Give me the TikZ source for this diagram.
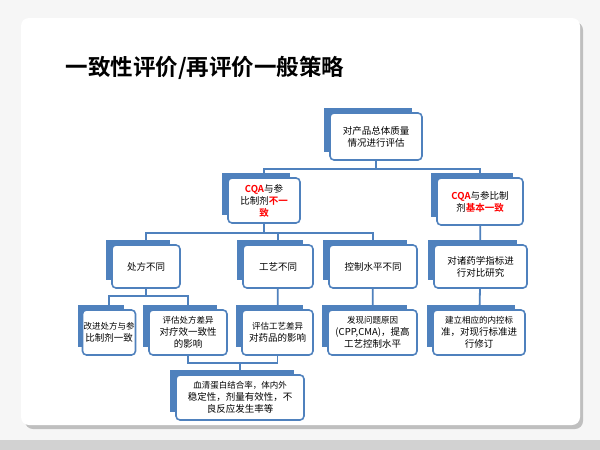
\documentclass[tikz,border=0pt]{standalone}
\usepackage{fontspec}
\setmainfont{Noto Sans CJK SC}
\newfontfamily\cjkb{Noto Sans CJK SC Bold}
\XeTeXlinebreaklocale "zh"
\XeTeXlinebreakskip=0pt plus 1pt
\definecolor{bl}{HTML}{4F81BD}
\definecolor{rd}{HTML}{FF0000}
\newcommand\bx[6]{%
  \fill[bl] (#2-6,#3-5) rectangle (#4-10,#5-8);
  \node[front,minimum width=#4-#2,minimum height=#5-#3] (#1) at ({(#2+#4)/2},{(#3+#5)/2}) {#6};}
\tikzset{front/.style={draw=bl,line width=1.6pt,rounded corners=4pt,fill=white,inner sep=1pt,align=center,font=\fontsize{9.5}{12}\selectfont},
 conn/.style={draw=bl,line width=1.8pt}}
\begin{document}
\begin{tikzpicture}[x=1pt,y=-1pt]
\useasboundingbox (0,0) rectangle (600,450);
\fill[gray!35] (0,0) rectangle (600,450);
\fill[white!93!gray] (0,0) rectangle (600,440);
\fill[black!25] (25,22) [rounded corners=8pt] rectangle (583,429);
\fill[white] (21,18) [rounded corners=8pt] rectangle (580,425);
\node[anchor=west,font=\cjkb\fontsize{22.5}{26}\selectfont] (title) at (62,68) {一致性评价/再评价一般策略};
\bx{top}{330}{113}{422}{160}{对产品总体质量\\情况进行评估}
\bx{cl}{228}{178}{300}{223}{{\cjkb\color{rd}CQA}与参\\比制剂{\cjkb\color{rd}不一}\\{\cjkb\color{rd}致}}
\bx{cr}{437}{178}{523}{225}{{\cjkb\color{rd}CQA}与参比制\\剂{\cjkb\color{rd}基本一致}}
\bx{a}{112}{245}{180}{288}{处方不同}
\bx{b}{243}{245}{313}{288}{工艺不同}
\bx{c}{329}{245}{417}{288}{控制水平不同}
\bx{d}{434}{245}{527}{288}{对诸药学指标进\\行对比研究}
\bx{a1}{84}{310}{134}{355}{\fontsize{8.5}{11}\selectfont 改进处方与参\\比制剂一致}
\bx{a2}{149}{310}{227}{355}{\fontsize{8.5}{11}\selectfont 评估处方差异\\对疗效一致性\\的影响}
\bx{b1}{242}{310}{313}{355}{\fontsize{8.5}{11}\selectfont 评估工艺差异\\对药品的影响}
\bx{c1}{328}{310}{417}{355}{\fontsize{8.5}{11}\selectfont 发现问题原因\\(CPP,CMA)，提高\\工艺控制水平}
\bx{d1}{433}{310}{525}{355}{\fontsize{8.5}{11}\selectfont 建立相应的内控标\\准，对现行标准进\\行修订}
\bx{e}{176}{375}{304}{420}{\fontsize{8.5}{11}\selectfont 血清蛋白结合率，体内外\\稳定性，剂量有效性，不\\良反应发生率等}
\draw[conn] (top.south) -- ++(0,8) -| (cl.north);
\draw[conn] (top.south) ++(0,8) -| (cr.north);
\draw[conn] (cl.south) -- ++(0,9) -| (a.north);
\draw[conn] (cl.south) ++(0,9) -| (b.north);
\draw[conn] (cl.south) ++(0,9) -| (c.north);
\draw[conn] (cr) -- (d);
\draw[conn] (a.south) -- ++(0,7) -| (a1.north);
\draw[conn] (a.south) ++(0,7) -| (a2.north);
\draw[conn] (b) -- (b1);
\draw[conn] (c) -- (c1);
\draw[conn] (d) -- (d1);
\draw[conn] (a2.south) -- ++(0,7) -| (b1.south);
\draw[conn] (a2.south) ++(0,7) -| (e.north);
\end{tikzpicture}
\end{document}
